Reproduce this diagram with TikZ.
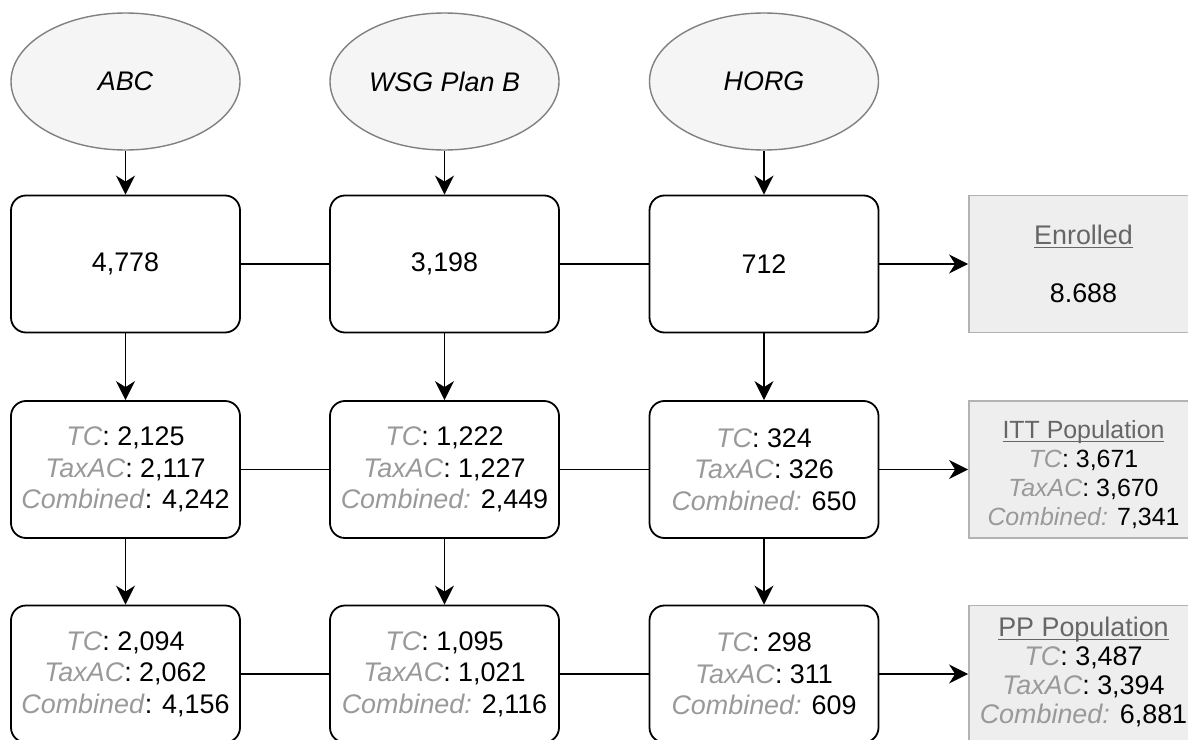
\documentclass[tikz,border=0pt]{standalone}
\usepackage{fontspec}
\setmainfont{Liberation Sans}
\usetikzlibrary{arrows.meta,shapes.geometric}
\definecolor{lbl}{HTML}{999999}
\definecolor{ttl}{HTML}{666666}
\definecolor{ellfill}{HTML}{F5F5F5}
\definecolor{ellline}{HTML}{808080}
\definecolor{sumfill}{HTML}{EEEEEE}
\definecolor{sumline}{HTML}{B3B3B3}
\newcommand{\lb}[1]{\textcolor{lbl}{\textit{#1}}}
\newcommand{\ttlu}[1]{\textcolor{ttl}{\setbox0\hbox{#1}\rlap{\rule[-3.5bp]{\wd0}{1.5bp}}\box0}}
\begin{document}
\begin{tikzpicture}[x=1bp,y=-1bp,
  src/.style={ellipse, draw=ellline, fill=ellfill, line width=1.4bp,
    minimum width=229bp, minimum height=137bp, inner sep=0pt,
    font=\fontsize{27}{31.5}\selectfont\itshape},
  cnt/.style={rectangle, rounded corners=15bp, draw=black, line width=1.8bp,
    minimum width=229bp, minimum height=137bp, inner sep=0pt, align=center,
    font=\fontsize{27}{31.5}\selectfont},
  sumbox/.style={rectangle, draw=sumline, fill=sumfill, line width=1.8bp,
    minimum width=229bp, minimum height=137bp, inner sep=0pt, align=center},
  link/.style={line width=1.8bp},
  flow/.style={line width=1.8bp, -{Stealth[length=19bp,width=19bp,inset=6bp]}}]
\useasboundingbox (0,0) rectangle (1188,740);
\clip (0,0) rectangle (1188,740);
% sources
\node[src] (e1) at (125.5,81.5) {ABC};
\node[src] (e2) at (444.5,81.5) {WSG Plan B};
\node[src] (e3) at (764,81.5) {HORG};
% row 1
\node[cnt] (a1) at (125.5,264) {4,778};
\node[cnt] (b1) at (444.5,264) {3,198};
\node[cnt] (c1) at (764,264) {712};
\node[sumbox, font=\fontsize{27}{31.5}\selectfont] (s1) at (1083.5,264) {\ttlu{Enrolled}\\[26.5bp]8.688};
% row 2
\node[cnt] (a2) at (125.5,469.5) {\lb{TC}: 2,125\\\lb{TaxAC}: 2,117\\\lb{Combined}: 4,242};
\node[cnt] (b2) at (444.5,469.5) {\lb{TC}: 1,222\\\lb{TaxAC}: 1,227\\\lb{Combined:} 2,449};
\node[cnt] (c2) at (764,469.5) {\lb{TC}: 324\\\lb{TaxAC}: 326\\\lb{Combined:} 650};
\node[sumbox] (s2) at (1083.5,469.5) {};
\node[font=\fontsize{25}{29}\selectfont, align=center, inner sep=0pt] (s2t) at ([yshift=-5bp]s2.center) {\ttlu{ITT Population}\\\lb{TC}: 3,671\\\lb{TaxAC}: 3,670\\\lb{Combined:} 7,341};
% row 3
\node[cnt] (a3) at (125.5,674) {\lb{TC}: 2,094\\\lb{TaxAC}: 2,062\\\lb{Combined}: 4,156};
\node[cnt] (b3) at (444.5,674) {\lb{TC}: 1,095\\\lb{TaxAC}: 1,021\\\lb{Combined:} 2,116};
\node[cnt] (c3) at (764,674) {\lb{TC}: 298\\\lb{TaxAC}: 311\\\lb{Combined:} 609};
\node[sumbox] (s3) at (1083.5,674) {};
\node[font=\fontsize{27}{29}\selectfont, align=center, inner sep=0pt] (s3t) at ([yshift=2bp]s3.center) {\ttlu{PP Population}\\\lb{TC}: 3,487\\\lb{TaxAC}: 3,394\\\lb{Combined:} 6,881};
% connectors
\draw[flow] (e1) -- (a1);
\draw[flow] (e2) -- (b1);
\draw[flow] (e3) -- (c1);
\draw[flow] (a1) -- (a2);
\draw[flow] (b1) -- (b2);
\draw[flow] (c1) -- (c2);
\draw[flow] (a2) -- (a3);
\draw[flow] (b2) -- (b3);
\draw[flow] (c2) -- (c3);
\draw[link] (a1) -- (b1);
\draw[link] (b1) -- (c1);
\draw[flow] (c1) -- (s1);
\draw[link] (a2) -- (b2);
\draw[link] (b2) -- (c2);
\draw[flow] (c2) -- (s2);
\draw[link] (a3) -- (b3);
\draw[link] (b3) -- (c3);
\draw[flow] (c3) -- (s3);
\end{tikzpicture}
\end{document}
